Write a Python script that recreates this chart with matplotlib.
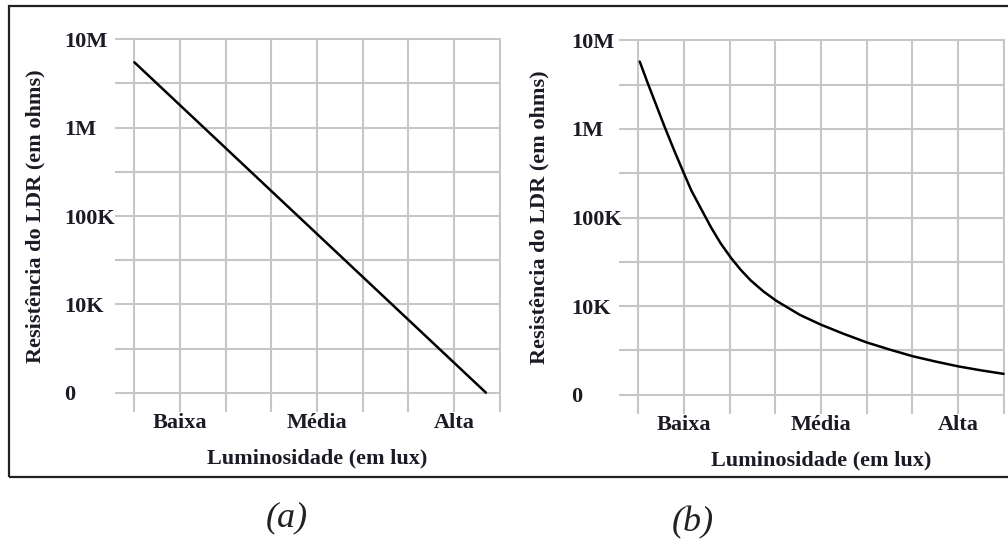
import matplotlib
matplotlib.use('Agg')
import matplotlib.pyplot as plt
from matplotlib.patches import Rectangle

# Grid positions (8 x 8 cells) and the labels shown on them
grid_pos = [0, 1, 2, 3, 4, 5, 6, 7, 8]
y_tick_labels = ['0', '', '10K', '', '100K', '', '1M', '', '10M']
x_tick_labels = ['', 'Baixa', '', '', 'Média', '', '', 'Alta', '']

# (a) straight line on the log chart, in grid units
lin_x = [0.0, 7.7]
lin_y = [7.48, 0.0]

# (b) curve, in grid units
curve_x = [0.03, 0.21, 0.36, 0.57, 0.79, 1.0, 1.16, 1.33, 1.59, 1.8, 2.02, 2.24,
           2.46, 2.74, 3.02, 3.54, 4.0, 4.48, 5.0, 5.5, 6.0, 6.5, 7.0, 7.5, 8.0]
curve_y = [7.52, 7.02, 6.62, 6.06, 5.50, 4.99, 4.61, 4.28, 3.78, 3.42, 3.10, 2.82,
           2.58, 2.33, 2.12, 1.80, 1.58, 1.38, 1.18, 1.02, 0.87, 0.75, 0.64, 0.55, 0.47]

plt.rcParams['font.family'] = ['Liberation Serif', 'DejaVu Serif']

grid_color = '#c6c6c6'
text_color = '#1c1a24'

fig = plt.figure(figsize=(10.08, 5.41), dpi=100)

# outer frame round both panels (right side runs off the picture)
fig.patches.append(Rectangle((9 / 1008, 1 - 477 / 541), 1.2, (477 - 6) / 541,
                             transform=fig.transFigure, fill=False,
                             edgecolor='#222222', linewidth=1.6))

panels = [
    # axes rect, y label pad, xs, ys, caption, caption pos
    ([133 / 1008, 1 - 394 / 541, 368 / 1008, 356 / 541], 36.7, lin_x, lin_y,
     '(a)', (287 / 1008, 1 - 518 / 541)),
    ([637 / 1008, 1 - 396 / 541, 368 / 1008, 357 / 541], 34.6, curve_x, curve_y,
     '(b)', (693 / 1008, 1 - 523 / 541)),
]

for rect, ypad, xs, ys, caption, cap_pos in panels:
    ax = fig.add_axes(rect)
    ax.set_xlim(-0.03, 8.03)
    ax.set_ylim(-0.03, 8.03)
    for s in ax.spines.values():
        s.set_visible(False)

    ax.set_xticks(grid_pos)
    ax.set_xticklabels(x_tick_labels)
    ax.set_yticks(grid_pos)
    ax.set_yticklabels(y_tick_labels)
    ax.grid(True, color=grid_color, linewidth=1.5)
    ax.set_axisbelow(True)

    ax.tick_params(axis='both', length=13, width=1.5, color=grid_color,
                   labelsize=16, labelcolor=text_color)
    ax.tick_params(axis='x', pad=1)
    ax.tick_params(axis='y', pad=ypad)
    for lbl in ax.get_yticklabels():
        lbl.set_horizontalalignment('left')
        lbl.set_fontweight('bold')
    for lbl in ax.get_xticklabels():
        lbl.set_fontweight('bold')

    ax.plot(xs, ys, color='black', linewidth=1.8, solid_capstyle='round',
            solid_joinstyle='round')

    ax.set_ylabel('Resistência do LDR (em ohms)', fontsize=16, fontweight='bold',
                  color=text_color, va='center')
    ax.yaxis.set_label_coords(-0.266, 0.5)
    ax.set_xlabel('Luminosidade (em lux)', fontsize=16, fontweight='bold',
                  color=text_color, va='center')
    ax.xaxis.set_label_coords(0.5, -0.182)

    fig.text(cap_pos[0], cap_pos[1], caption, ha='center', va='center',
             fontsize=26, fontstyle='italic', color='#222222')

plt.savefig('out.png', dpi=100)
